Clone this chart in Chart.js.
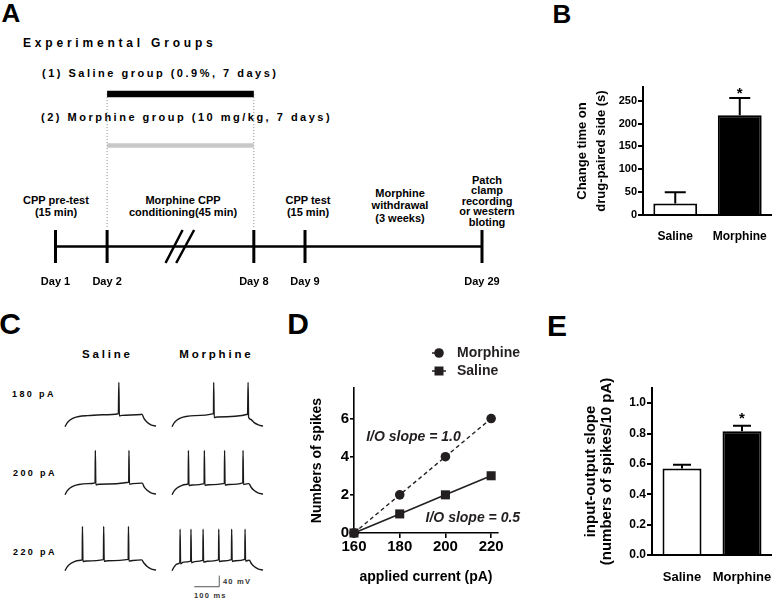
<!DOCTYPE html>
<html>
<head>
<meta charset="utf-8">
<title>Morphine CPP and neuronal excitability</title>
<script src="https://cdn.jsdelivr.net/npm/chart.js"></script>
<style>
  body { margin: 0; background: #fff; }
  #fig { position: relative; width: 772px; height: 609px; overflow: hidden;
         font-family: 'Liberation Sans', Arial, sans-serif; color: #000; }
  #fig canvas { position: absolute; }
  .t { position: absolute; white-space: nowrap; font-weight: bold; }
  .c { transform: translate(-50%, -50%); text-align: center; }
  .l { transform: translateY(-50%); }
  .big { font-size: 26px; }
  .huge { font-size: 30px; }
  .grp { font-size: 11px; letter-spacing: 2.5px; }
  .phase { font-size: 11px; line-height: 12px; }
  .col { font-size: 11.5px; letter-spacing: 2.8px; padding-left: 2.8px; }
  .row { font-size: 9px; letter-spacing: 2.4px; }
  .sb { font-size: 7.5px; letter-spacing: 1.2px; color: #333; }
</style>
</head>
<body>
<div id="fig">
  <!-- panel letters -->
  <div class="t c big" style="left:11px;top:13px">A</div>
  <div class="t c big" style="left:562px;top:14px">B</div>
  <div class="t c huge" style="left:10px;top:324px">C</div>
  <div class="t c huge" style="left:298px;top:324px">D</div>
  <div class="t c huge" style="left:557px;top:326px">E</div>

  <!-- panel A texts -->
  <div class="t l" style="left:23px;top:43px;font-size:12px;letter-spacing:3.8px">Experimental Groups</div>
  <div class="t l grp" style="left:42px;top:73px">(1) Saline group (0.9%, 7 days)</div>
  <div class="t l grp" style="left:41px;top:117px">(2) Morphine group (10 mg/kg, 7 days)</div>
  <div class="t c phase" style="left:56px;top:206px">CPP pre-test<br>(15 min)</div>
  <div class="t c phase" style="left:183px;top:206px">Morphine CPP<br>conditioning(45 min)</div>
  <div class="t c phase" style="left:308px;top:206px">CPP test<br>(15 min)</div>
  <div class="t c phase" style="left:400px;top:205px;line-height:12.3px">Morphine<br>withdrawal<br>(3 weeks)</div>
  <div class="t c phase" style="left:487px;top:201px;line-height:10.4px">Patch<br>clamp<br>recording<br>or western<br>bloting</div>

  <!-- panel C texts -->
  <div class="t c col" style="left:106px;top:354px">Saline</div>
  <div class="t c col" style="left:215px;top:354px">Morphine</div>
  <div class="t l row" style="left:12px;top:394px">180 pA</div>
  <div class="t l row" style="left:13px;top:473px">200 pA</div>
  <div class="t l row" style="left:13px;top:552px">220 pA</div>
  <div class="t l sb" style="left:223px;top:581px">40 mV</div>
  <div class="t l sb" style="left:194px;top:595px">100 ms</div>

  <canvas id="chartA" width="530" height="215" style="left:0;top:85px"></canvas>
  <canvas id="chartB" width="232" height="180" style="left:540px;top:75px"></canvas>
  <canvas id="sal180" width="95" height="50" style="left:63px;top:379px"></canvas>
  <canvas id="mor180" width="95" height="50" style="left:170px;top:379px"></canvas>
  <canvas id="sal200" width="95" height="50" style="left:63px;top:447px"></canvas>
  <canvas id="mor200" width="95" height="50" style="left:170px;top:447px"></canvas>
  <canvas id="sal220" width="95" height="50" style="left:63px;top:523px"></canvas>
  <canvas id="mor220" width="95" height="50" style="left:170px;top:523px"></canvas>
  <canvas id="scaleBar" width="40" height="24" style="left:188px;top:570px"></canvas>
  <canvas id="chartD" width="240" height="250" style="left:290px;top:340px"></canvas>
  <canvas id="chartE" width="212" height="230" style="left:560px;top:370px"></canvas>
</div>

<script>
// ---------- data ----------
// A: protocol timeline
const milestoneLabels = ['Day 1', 'Day 2', 'Day 8', 'Day 9', 'Day 29'];
// schematic place of each milestone along the broken timeline (0-100)
const milestonePos = [0, 12.1, 46.5, 58.5, 100];
// the "//" break between Day 2 and Day 8 (bottom x, top x)
const breakMarks = [[25.8, 29.8], [28.3, 32.5]];

// B: CPP score
const groups = ['Saline', 'Morphine'];
const cppMean = [25, 218];
const cppSem = [25, 38];
const cppStars = ['', '*'];

// C: example traces, [time ms, membrane potential mV]
const sal180 = [[0,-95],[8,-82],[20,-71],[35,-63],[55,-58],[90,-55],[150,-52],[211,-48],[213,65],[215,-56],[225,-54],[300,-51],[304,-50],[313,-66],[325,-79],[340,-88],[360,-93]];
const mor180 = [[0,-95],[8,-82],[20,-71],[35,-63],[55,-58],[90,-55],[164,-48],[165,65],[167,-62],[180,-60],[299,-50],[301,65],[303,-60],[310,-68],[325,-80],[342,-88],[360,-93]];
const sal200 = [[0,-95],[8,-82],[20,-71],[35,-63],[55,-58],[90,-55],[119,-52],[120,65],[122,-59],[135,-57],[252,-50],[253,65],[255,-57],[268,-55],[302,-53],[306,-53],[313,-67],[325,-79],[340,-88],[360,-93]];
const mor200 = [[0,-95],[8,-82],[20,-71],[35,-63],[55,-58],[64,-56],[65,65],[67,-62],[80,-60],[127,-55],[128,65],[130,-61],[145,-59],[207,-54],[208,65],[210,-60],[225,-58],[280,-52],[281,65],[283,-58],[295,-56],[304,-55],[313,-68],[325,-80],[340,-88],[360,-93]];
const sal220 = [[0,-95],[8,-82],[20,-71],[35,-63],[55,-58],[68,-56],[69,65],[71,-62],[85,-60],[152,-55],[153,65],[155,-61],[170,-59],[250,-54],[251,65],[253,-60],[268,-58],[303,-56],[313,-68],[325,-80],[340,-88],[360,-93]];
const mor220 = [[0,-95],[8,-82],[20,-71],[31,-66],[32,55],[34,-70],[45,-64],[74,-60],[75,55],[77,-66],[90,-62],[122,-58],[123,55],[125,-64],[140,-61],[184,-56],[185,55],[187,-62],[200,-60],[235,-55],[236,55],[238,-61],[252,-59],[288,-54],[289,55],[291,-60],[300,-58],[306,-57],[313,-68],[325,-80],[340,-88],[360,-93]];
const scaleBarPts = [[0,0],[100,0],[100,40]]; // 100 ms, 40 mV

// D: input-output
const currents = [160, 180, 200, 220];
const spikesMorphine = [0, 2, 4, 6];
const spikesSaline = [0, 1, 2, 3];

// E: I/O slope
const slopeMean = [0.57, 0.815];
const slopeSem = [0.025, 0.037];
const slopeStars = ['', '*'];

// ---------- shared ----------
const FONT = "'Liberation Sans', Arial, sans-serif";
Chart.defaults.font.family = FONT;
Chart.defaults.color = '#000';
Chart.defaults.animation = false;
Chart.defaults.plugins.legend.display = false;
Chart.defaults.plugins.tooltip.enabled = false;

const xy = arr => arr.map(p => ({x: p[0], y: p[1]}));
const noPad = s => { s.paddingLeft = 0; s.paddingRight = 0; s.paddingTop = 0; s.paddingBottom = 0; };

const errorBars = {
  id: 'errorBars',
  afterDatasetsDraw(chart, args, o) {
    const ctx = chart.ctx, y = chart.scales.y;
    const bars = chart.getDatasetMeta(0).data;
    ctx.save();
    ctx.strokeStyle = '#000';
    ctx.fillStyle = '#000';
    ctx.lineWidth = 2;
    ctx.font = 'bold 15px ' + FONT;
    ctx.textAlign = 'center';
    ctx.textBaseline = 'alphabetic';
    bars.forEach((bar, i) => {
      const top = y.getPixelForValue(o.mean[i] + o.sem[i]);
      ctx.beginPath();
      ctx.moveTo(bar.x, bar.y);
      ctx.lineTo(bar.x, top);
      ctx.moveTo(bar.x - o.cap, top);
      ctx.lineTo(bar.x + o.cap, top);
      ctx.stroke();
      if (o.stars[i]) ctx.fillText(o.stars[i], bar.x, top - o.starGap);
    });
    ctx.restore();
  }
};

function barChart(id, means, sems, stars, cfg) {
  return new Chart(document.getElementById(id), {
    type: 'bar',
    plugins: [errorBars],
    data: {
      labels: groups,
      datasets: [{
        data: means,
        backgroundColor: ['#fff', '#000'],
        borderColor: '#000',
        borderWidth: 2,
        borderSkipped: 'start',
        categoryPercentage: 1,
        barPercentage: cfg.barPct
      }]
    },
    options: {
      responsive: false,
      layout: {padding: {top: cfg.padTop, left: 0, right: 0, bottom: 0}},
      plugins: {errorBars: {mean: means, sem: sems, stars: stars, cap: cfg.cap, starGap: cfg.starGap}},
      scales: {
        x: {
          grid: {display: false, drawTicks: false},
          border: {color: '#000', width: 2},
          ticks: {autoSkip: false, maxRotation: 0, minRotation: 0,
                  font: {size: cfg.xFont, weight: 'bold'}, padding: cfg.xPad},
          afterFit: s => { s.height = cfg.xHeight; noPad(s); }
        },
        y: {
          min: 0, max: cfg.yMax,
          ticks: {stepSize: cfg.step, includeBounds: false, padding: 1,
                  font: {size: cfg.yFont, weight: 'bold'}, callback: cfg.fmt},
          grid: {drawOnChartArea: false, color: '#000', lineWidth: 2, tickLength: 5},
          border: {color: '#000', width: 2},
          title: {display: true, text: cfg.title, padding: {top: cfg.titlePad, bottom: 0},
                  font: {size: cfg.titleFont, weight: 'bold', lineHeight: cfg.titleLH}},
          afterFit: s => { s.width = cfg.yWidth; noPad(s); }
        }
      }
    }
  });
}

// ---------- A ----------
const lineDs = (data, color, width, extra) => Object.assign({
  data, showLine: true, borderColor: color, borderWidth: width,
  pointRadius: 0, clip: false, spanGaps: false
}, extra || {});

const tickSegs = [];
milestonePos.forEach(p => tickSegs.push({x: p, y: -1}, {x: p, y: 1}, {x: p, y: null}));
const breakSegs = [];
breakMarks.forEach(b => breakSegs.push({x: b[0], y: -1}, {x: b[1], y: 1}, {x: b[1], y: null}));
const d2 = milestonePos[1], d8 = milestonePos[2];

new Chart(document.getElementById('chartA'), {
  type: 'scatter',
  data: {
    datasets: [
      lineDs([{x: milestonePos[0], y: 0}, {x: milestonePos[4], y: 0}], '#000', 2.5),
      lineDs(tickSegs, '#000', 3),
      lineDs(breakSegs, '#000', 2.5),
      lineDs([{x: d2, y: 9.24}, {x: d8, y: 9.24}], '#000', 6.5),
      lineDs([{x: d2, y: 6.12}, {x: d8, y: 6.12}], '#c8c8c8', 4.5),
      lineDs([{x: d2, y: 9.24}, {x: d2, y: 1.1}, {x: d2, y: null}, {x: d8, y: 9.24}, {x: d8, y: 1.1}],
             '#8a8a8a', 1, {borderDash: [1, 2]})
    ]
  },
  options: {
    responsive: false,
    layout: {padding: {left: 55.5, right: 48, top: 0, bottom: 0}},
    scales: {
      x: {
        type: 'linear', min: 0, max: 100,
        grid: {display: false, drawTicks: false},
        border: {display: false},
        afterBuildTicks: s => { s.ticks = milestonePos.map(v => ({value: v})); },
        ticks: {autoSkip: false, maxRotation: 0, padding: 12.5,
                font: {size: 11, weight: 'bold'},
                callback: (v, i) => milestoneLabels[i]},
        afterFit: s => { s.height = 37; noPad(s); }
      },
      y: {display: false, min: -1, max: 9.79}
    }
  }
});

// ---------- B ----------
barChart('chartB', cppMean, cppSem, cppStars, {
  barPct: 0.68, padTop: 12, cap: 10.5, starGap: 0,
  xFont: 12, xPad: 14, xHeight: 40,
  yMax: 280, step: 50, yFont: 11, fmt: v => v,
  title: ['Change time on', 'drug-paired side (s)'], titlePad: 33, titleFont: 13, titleLH: 1.45,
  yWidth: 103
});

// ---------- C ----------
function trace(id, pts, xmin, xmax, ymin, ymax, color, width) {
  new Chart(document.getElementById(id), {
    type: 'scatter',
    data: {datasets: [{
      data: xy(pts), showLine: true, borderColor: color, borderWidth: width,
      pointRadius: 0, cubicInterpolationMode: 'monotone', clip: false
    }]},
    options: {
      responsive: false,
      layout: {padding: 2},
      scales: {
        x: {display: false, min: xmin, max: xmax},
        y: {display: false, min: ymin, max: ymax}
      }
    }
  });
}
[['sal180', sal180], ['mor180', mor180], ['sal200', sal200],
 ['mor200', mor200], ['sal220', sal220], ['mor220', mor220]].forEach(([id, pts]) =>
  trace(id, pts, 0, 360, -96, 70, '#1a1a1a', 1.4));
trace('scaleBar', scaleBarPts, -17, 127, -19, 53, '#555', 1);

// ---------- D ----------
const ioExtras = {
  id: 'ioExtras',
  afterDraw(chart, args, o) {
    const ctx = chart.ctx, xs = chart.scales.x, ys = chart.scales.y;
    ctx.save();
    ctx.fillStyle = '#231f20';
    ctx.strokeStyle = '#231f20';
    ctx.textBaseline = 'middle';
    // legend: Morphine then Saline
    [1, 0].forEach((di, k) => {
      const ds = chart.data.datasets[di];
      const y = o.legendY + k * o.legendGap;
      ctx.lineWidth = 1.5;
      ctx.setLineDash(ds.borderDash || []);
      ctx.beginPath();
      ctx.moveTo(o.legendX - 7, y);
      ctx.lineTo(o.legendX + 7, y);
      ctx.stroke();
      ctx.setLineDash([]);
      ctx.beginPath();
      if (ds.pointStyle === 'rect') {
        ctx.rect(o.legendX - 4.5, y - 4.5, 9, 9);
      } else {
        ctx.arc(o.legendX, y, 4.8, 0, Math.PI * 2);
      }
      ctx.fill();
      ctx.font = 'bold 14px ' + FONT;
      ctx.textAlign = 'left';
      ctx.fillText(ds.label, o.legendX + 18, y + 0.5);
    });
    ctx.font = 'italic bold 14px ' + FONT;
    ctx.textAlign = 'center';
    o.notes.forEach(n => ctx.fillText(n.text, xs.getPixelForValue(n.x), ys.getPixelForValue(n.y)));
    ctx.restore();
  }
};

new Chart(document.getElementById('chartD'), {
  type: 'scatter',
  plugins: [ioExtras],
  data: {
    datasets: [
      {label: 'Saline', data: currents.map((c, i) => ({x: c, y: spikesSaline[i]})),
       showLine: true, borderColor: '#231f20', backgroundColor: '#231f20', borderWidth: 1.6,
       pointStyle: 'rect', pointRadius: 6.4, pointBorderWidth: 0, clip: false},
      {label: 'Morphine', data: currents.map((c, i) => ({x: c, y: spikesMorphine[i]})),
       showLine: true, borderColor: '#231f20', backgroundColor: '#231f20', borderWidth: 1.4,
       borderDash: [4, 3], pointStyle: 'circle', pointRadius: 4.8, pointBorderWidth: 0, clip: false}
    ]
  },
  options: {
    responsive: false,
    layout: {padding: {top: 48, right: 32, left: 0, bottom: 0}},
    plugins: {ioExtras: {
      legendX: 149, legendY: 13, legendGap: 18,
      notes: [{text: 'I/O slope = 1.0', x: 186, y: 5.0}, {text: 'I/O slope = 0.5', x: 212, y: 0.8}]
    }},
    scales: {
      x: {
        type: 'linear', min: 160, max: 223,
        ticks: {stepSize: 20, includeBounds: false, padding: 0, font: {size: 15, weight: 'bold'}},
        grid: {drawOnChartArea: false, color: '#000', lineWidth: 1.6, tickLength: 5},
        border: {color: '#000', width: 1.6},
        title: {display: true, text: 'applied current (pA)', padding: {top: 0, bottom: 4.6},
                font: {size: 14, weight: 'bold', lineHeight: 1.2}},
        afterFit: s => { s.height = 57; noPad(s); }
      },
      y: {
        min: 0, max: 7.6,
        ticks: {stepSize: 2, includeBounds: false, padding: 1, font: {size: 15, weight: 'bold'}},
        grid: {drawOnChartArea: false, color: '#000', lineWidth: 1.6, tickLength: 4},
        border: {color: '#000', width: 1.6},
        title: {display: true, text: 'Numbers of spikes', padding: {top: 18.6, bottom: 0},
                font: {size: 14, weight: 'bold', lineHeight: 1.2}},
        afterFit: s => { s.width = 64; noPad(s); }
      }
    }
  }
});

// ---------- E ----------
barChart('chartE', slopeMean, slopeSem, slopeStars, {
  barPct: 0.65, padTop: 18, cap: 9, starGap: 3,
  xFont: 13, xPad: 15, xHeight: 45,
  yMax: 1.1, step: 0.2, yFont: 12, fmt: v => v.toFixed(1),
  title: ['input-output slope', '(numbers of spikes/10 pA)'], titlePad: 22, titleFont: 15, titleLH: 1.12,
  yWidth: 92
});
</script>
</body>
</html>
